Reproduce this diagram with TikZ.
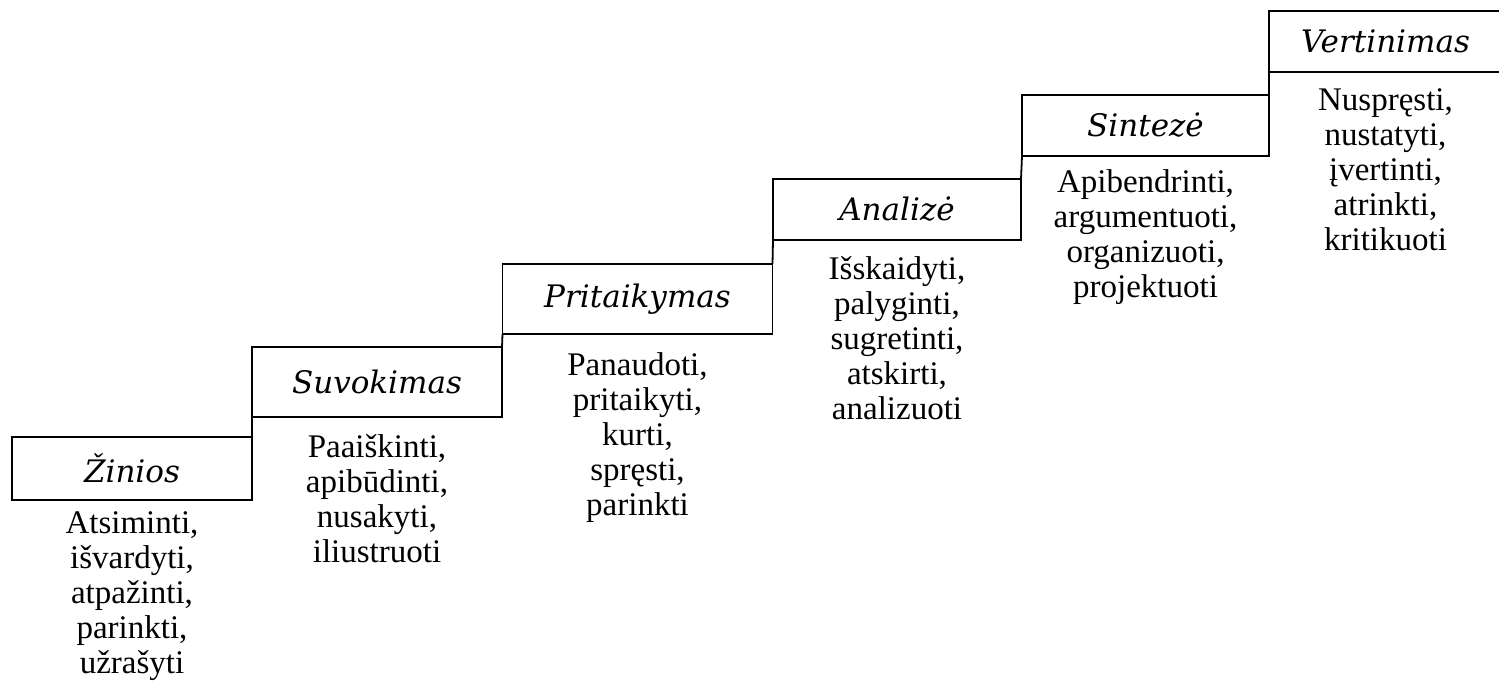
\documentclass[tikz,border=0pt]{standalone}
\usepackage{fontspec}
\setmainfont{Liberation Serif}
\newfontfamily\stepfont{DejaVu Serif}
\usetikzlibrary{positioning}
\tikzset{
  stepbox/.style={
    draw=black, line width=1.8pt, inner sep=0pt, outer sep=0pt,
    font=\stepfont\itshape\fontsize{31}{36}\selectfont
  },
  verbs/.style={
    align=center, inner sep=0pt, anchor=north,
    font=\fontsize{33}{35.2}\selectfont
  },
  stair/.style={draw=black, line width=1.8pt}
}
\begin{document}
\begin{tikzpicture}[x=1pt, y=-1pt]
  \useasboundingbox (0,0) rectangle (1499,691);
  % steps
  \node[stepbox, minimum width=240pt, minimum height=63pt] (zin) at (132,468.5) {Žinios};
  \node[stepbox, minimum width=250pt, minimum height=70pt] (suv) at (377,382) {Suvokimas};
  \node[stepbox, minimum width=270pt, minimum height=70pt] (pri) at (637.5,299) {Pritaikymas};
  \node[stepbox, minimum width=248pt, minimum height=61pt] (ana) at (897,209.5) {Analizė};
  \node[stepbox, minimum width=247pt, minimum height=61pt] (sin) at (1145.5,125.5) {Sintezė};
  \node[stepbox, minimum width=233pt, minimum height=61pt] (ver) at (1385.5,41.5) {Vertinimas};
  % risers
  \draw[stair] (suv.south west) -- (zin.north east);
  \draw[stair] (pri.south west) -- (suv.north east);
  \draw[stair] (ana.south west) -- (pri.north east);
  \draw[stair] (sin.south west) -- (ana.north east);
  \draw[stair] (ver.south west) -- (sin.north east);
  % verbs
  \node[verbs, below=11pt of zin] (zinv) {Atsiminti,\\išvardyti,\\atpažinti,\\parinkti,\\užrašyti};
  \node[verbs, below=17pt of suv] (suvv) {Paaiškinti,\\apibūdinti,\\nusakyti,\\iliustruoti};
  \node[verbs, below=18pt of pri] (priv) {Panaudoti,\\pritaikyti,\\kurti,\\spręsti,\\parinkti};
  \node[verbs, below=16pt of ana] (anav) {Išskaidyti,\\palyginti,\\sugretinti,\\atskirti,\\analizuoti};
  \node[verbs, below=13pt of sin] (sinv) {Apibendrinti,\\argumentuoti,\\organizuoti,\\projektuoti};
  \node[verbs, below=16pt of ver] (verv) {Nuspręsti,\\nustatyti,\\įvertinti,\\atrinkti,\\kritikuoti};
\end{tikzpicture}
\end{document}
